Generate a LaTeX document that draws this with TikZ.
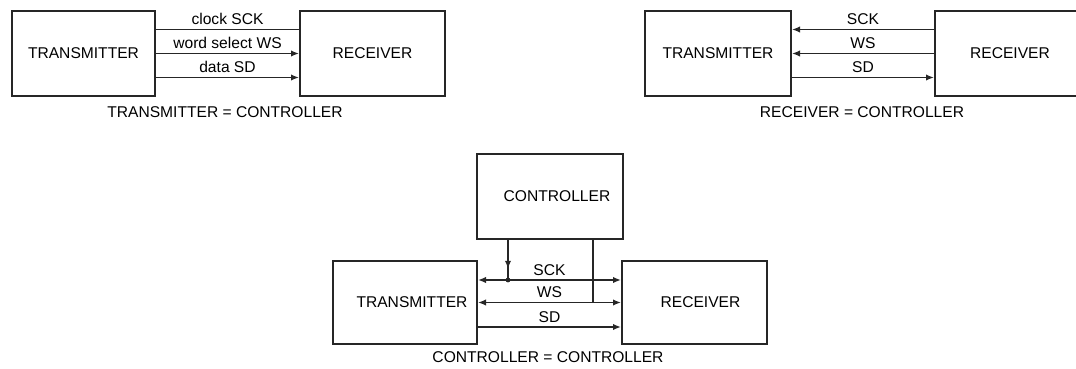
\documentclass[tikz,border=0pt]{standalone}
\usepackage{fontspec}
\setmainfont{Liberation Sans}
\usetikzlibrary{arrows.meta,decorations.markings}

\begin{document}
\begin{tikzpicture}[
    x=0.5pt, y=-0.5pt,
    box/.style={rectangle, draw=black!85, line width=1pt, minimum width=71.5pt, minimum height=42.5pt, inner sep=0pt, font=\fontsize{7.8}{9}\selectfont},
    lbl/.style={above, inner sep=1.8pt, font=\fontsize{7.8}{9}\selectfont},
    caption/.style={inner sep=0pt, font=\fontsize{7.8}{9}\selectfont},
    wire/.style={draw=black!85, line width=0.75pt, >={Latex[length=4pt,width=3.2pt]}},
    midarrow/.style={decoration={markings, mark=at position 0.72 with {\arrow{Latex[length=4pt,width=3.2pt]}}}, postaction={decorate}}
  ]
    \useasboundingbox (0,0) rectangle (1076,369);

    % transmitter is controller
    \node[box] (tx1) at (83.5,53.5) {TRANSMITTER};
    \node[box, minimum width=72.5pt] (rx1) at (372.5,53.5) {RECEIVER};
    \draw[wire] ([yshift=12pt]tx1.east) -- node[lbl] {clock SCK} ([yshift=12pt]rx1.west);
    \draw[wire, ->] (tx1.east) -- node[lbl] {word select WS} (rx1.west);
    \draw[wire, ->] ([yshift=-12pt]tx1.east) -- node[lbl] {data SD} ([yshift=-12pt]rx1.west);
    \node[caption] (cap1) at (225,112) {TRANSMITTER = CONTROLLER};

    % receiver is controller
    \node[box, minimum width=73pt] (tx2) at (718,53.5) {TRANSMITTER};
    \node[box, minimum width=75pt] (rx2) at (1010,53.5) {RECEIVER};
    \draw[wire, <-] ([yshift=12pt]tx2.east) -- node[lbl] {SCK} ([yshift=12pt]rx2.west);
    \draw[wire, <-] (tx2.east) -- node[lbl] {WS} (rx2.west);
    \draw[wire, ->] ([yshift=-12pt]tx2.east) -- node[lbl] {SD} ([yshift=-12pt]rx2.west);
    \node[caption] (cap2) at (862,112) {RECEIVER = CONTROLLER};

    % separate controller
    \node[box, minimum width=73pt] (ctrl) at (550,196.5) {\hspace{7pt}CONTROLLER};
    \node[box, minimum width=72pt, minimum height=41.5pt] (tx3) at (405,302.5) {\hspace{7pt}TRANSMITTER};
    \node[box, minimum width=72.5pt, minimum height=41.5pt] (rx3) at (694.5,302.5) {\hspace{6pt}RECEIVER};
    \draw[wire, <->] ([yshift=11.25pt]tx3.east) -- node[lbl] {SCK} ([yshift=11.25pt]rx3.west);
    \draw[wire, <->] (tx3.east) -- node[lbl] {WS} (rx3.west);
    \draw[wire, ->] ([yshift=-12.25pt]tx3.east) -- node[lbl] {SD} ([yshift=-12.25pt]rx3.west);
    \coordinate (sckjoin) at (508,280);
    \coordinate (wsjoin) at (593,302.5);
    \draw[wire, midarrow] (ctrl.south -| sckjoin) -- (sckjoin);
    \fill[black!85] (sckjoin) circle (1.2pt);
    \draw[wire] (ctrl.south -| wsjoin) -- (wsjoin);
    \node[caption] (cap3) at (548,357) {CONTROLLER = CONTROLLER};
  \end{tikzpicture}
\end{document}
